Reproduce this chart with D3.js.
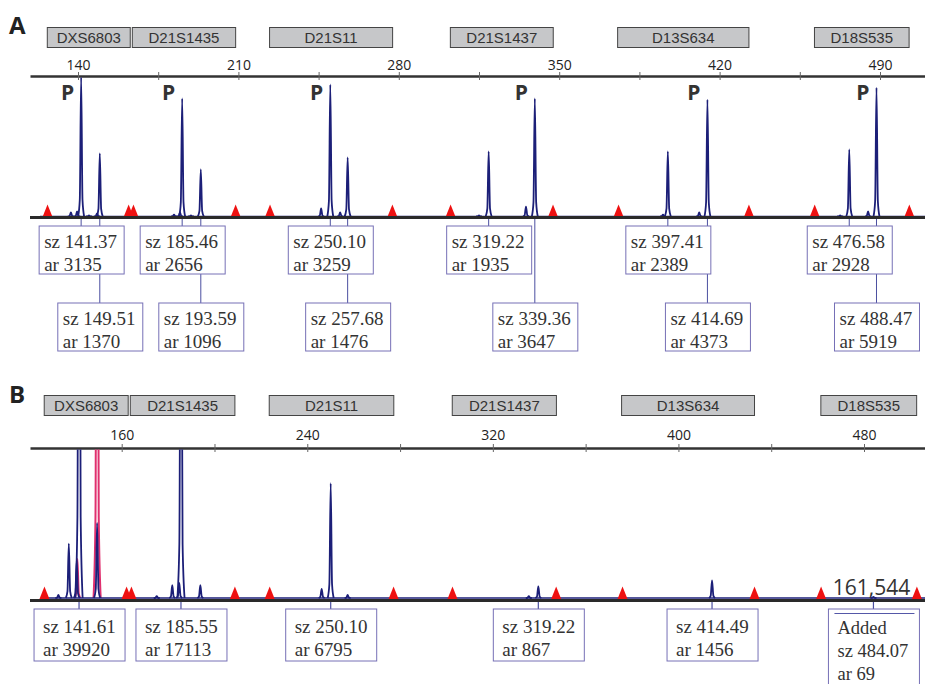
<!DOCTYPE html>
<html>
<head>
<meta charset="utf-8">
<script src="https://cdn.jsdelivr.net/npm/d3@7"></script>
<style>
  body { margin: 0; background: #fff; }
  svg { display: block; }
</style>
</head>
<body>
<div id="chart"></div>
<script>
// marker bins (bp), shared by both runs
const markerNames = ["DXS6803", "D21S1435", "D21S11", "D21S1437", "D13S634", "D18S535"];
const markerStart = [126.6, 163.7, 223.6, 302.5, 375.5, 461.4];
const markerEnd = [162.8, 208.8, 277.3, 347.4, 432.8, 502.7];

// internal size standard (red triangles)
const standardSizes = [126.7, 162.1, 164.2, 208.8, 223.8, 277.2, 302.6, 347.3, 375.9, 432.8, 461.5, 502.8];

// ---- run A ----
const ticksA = [140, 175, 210, 245, 280, 315, 350, 385, 420, 455, 490];
const sizesA = [141.37, 149.51, 185.46, 193.59, 250.10, 257.68, 319.22, 339.36, 397.41, 414.69, 476.58, 488.47];
const heightsA = [1990, 900, 1680, 670, 1880, 840, 925, 1680, 925, 1665, 955, 1835];
const areasA = [3135, 1370, 2656, 1096, 3259, 1476, 1935, 3647, 2389, 4373, 2928, 5919];
const pAllelesA = [141.37, 185.46, 250.10, 339.36, 414.69, 488.47];
const stutterSizesA = [136.9, 139.6, 144.8, 148.3, 181.9, 184.5, 189.3, 246.1, 254.4, 315.0, 335.5, 395.3, 411.1, 472.6, 484.8];
const stutterHeightsA = [57, 71, 15, 43, 28, 57, 15, 114, 57, 15, 142, 28, 57, 15, 71];

// ---- run B ----
const ticksB = [160, 200, 240, 280, 320, 360, 400, 440, 480];
const sizesB = [132.7, 137.2, 140.6, 141.61, 149.4, 175.1, 181.8, 184.8, 185.55, 193.9, 246.2, 250.10, 257.4, 335.5, 339.6, 414.49, 484.07];
const heightsB = [40, 726, 500, 9000, 1000, 25, 170, 200, 6000, 170, 120, 1530, 40, 25, 155, 235, 15];
const redSizesB = [140.9, 149.4];
const redHeightsB = [520, 9000];
const callAtB = [141.61, 185.55, 250.10, 339.6, 414.49, 484.07];
const callSzB = ["141.61", "185.55", "250.10", "319.22", "414.49", "484.07"];
const callArB = ["39920", "17113", "6795", "867", "1456", "69"];
const addedTotalB = "161,544";

const W = 925, H = 684;
const svg = d3.select("#chart").append("svg").attr("width", W).attr("height", H);

const navy = "#1c1f78";
const boxStroke = "#7670b6";
const leader = "#4b4fa0";

function peakPath(x, y, s, h, base) {
  const cx = x(s), top = Math.min(y(h), base);
  const hh = base - top;
  const w = h > y.domain()[1] ? 3.6 : 3;
  return d3.line().curve(d3.curveMonotoneX)([
    [cx - w, base], [cx - w * 0.45, base - hh * 0.12], [cx, top],
    [cx + w * 0.45, base - hh * 0.12], [cx + w, base]
  ]);
}

function drawPanel(p) {
  const g = svg.append("g");
  const x = d3.scaleLinear().domain(p.domain).range(p.range);
  const xr = x.copy().domain([x.invert(30), x.invert(925)]).range([30, 925]);
  const y = d3.scaleLinear().domain([0, 2000]).range([p.base, p.axisY]);

  // panel letter
  g.append("text").attr("x", 9).attr("y", p.letterY)
    .attr("font-family", "Open Sans").attr("font-weight", 700).attr("font-size", 24)
    .attr("fill", "#222").text(p.letter);

  // marker bins
  const mk = g.selectAll(".marker").data(markerNames).enter().append("g");
  mk.append("rect")
    .attr("x", (d, i) => xr(markerStart[i]))
    .attr("y", p.markerY)
    .attr("width", (d, i) => xr(markerEnd[i]) - xr(markerStart[i]))
    .attr("height", 20)
    .attr("fill", "#c6c7c9").attr("stroke", "#444").attr("stroke-width", 1);
  mk.append("text")
    .attr("x", (d, i) => (xr(markerStart[i]) + xr(markerEnd[i])) / 2)
    .attr("y", p.markerY + 15.5)
    .attr("text-anchor", "middle")
    .attr("font-family", "Liberation Sans").attr("font-size", 15).attr("fill", "#333")
    .text(d => d);

  // size axis
  const axis = d3.axisTop(xr).tickValues(p.ticks).tickSizeOuter(0).tickSizeInner(4)
    .tickPadding(p.tickPad).tickFormat((d, i) => i % 2 === 0 ? d : "");
  g.append("g").attr("transform", `translate(0,${p.axisY})`).call(axis)
    .call(a => {
      a.select(".domain").attr("stroke", "#333").attr("stroke-width", 2.5);
      a.selectAll(".tick line").attr("y1", 4).attr("stroke", "#666");
      a.selectAll(".tick text").attr("font-family", "Open Sans").attr("font-size", 14).attr("fill", "#222");
    });

  // traces
  const clipId = "clip" + p.letter;
  g.append("clipPath").attr("id", clipId).append("rect")
    .attr("x", 30).attr("y", p.axisY + 1.5).attr("width", 895).attr("height", p.base - p.axisY + 5);
  const tr = g.append("g").attr("clip-path", `url(#${clipId})`);

  if (p.redSizes) {
    tr.selectAll(".red").data(p.redSizes).enter().append("path")
      .attr("d", (d, i) => peakPath(xr, y, d, p.redHeights[i], p.base))
      .attr("fill", "none").attr("stroke", "#e0306e").attr("stroke-width", 2);
  }
  tr.append("line").attr("x1", p.traceStart).attr("x2", 925)
    .attr("y1", p.base).attr("y2", p.base)
    .attr("stroke", navy).attr("stroke-width", 1.5);
  const allS = p.sizes.concat(p.minorSizes || []);
  const allH = p.heights.concat(p.minorHeights || []);
  tr.selectAll(".peak").data(allS).enter().append("path")
    .attr("d", (d, i) => peakPath(xr, y, d, allH[i], p.base))
    .attr("fill", "none").attr("stroke", navy).attr("stroke-width", 1.8)
    .attr("stroke-linejoin", "round");

  // size standard triangles
  g.selectAll(".std").data(standardSizes).enter().append("path")
    .attr("d", d => `M${xr(d) - 5},${p.triBase} L${xr(d)},${p.triBase - 12.5} L${xr(d) + 5},${p.triBase} Z`)
    .attr("fill", "#ee1111");

  // baseline
  g.append("line").attr("x1", 30).attr("x2", 925)
    .attr("y1", p.blackY).attr("y2", p.blackY)
    .attr("stroke", "#2a2a2a").attr("stroke-width", 3);

  return { g, xr, y };
}

// ---------- panel A ----------
const A = drawPanel({
  letter: "A", letterY: 34, markerY: 27.5, axisY: 76, base: 216.5, blackY: 217.5,
  triBase: 217, domain: [140, 490], range: [78, 880], ticks: ticksA, tickPad: 2,
  sizes: sizesA, heights: heightsA, minorSizes: stutterSizesA, minorHeights: stutterHeightsA,
  traceStart: 40
});

A.g.selectAll(".p").data(pAllelesA).enter().append("text")
  .attr("x", d => A.xr(d) - 7).attr("y", 99.5)
  .attr("text-anchor", "end")
  .attr("font-family", "Open Sans").attr("font-weight", 700).attr("font-size", 21)
  .attr("fill", "#333").text("P");

const rowTopA = [226, 303];
const callsA = A.g.selectAll(".callA").data(sizesA).enter().append("g");
callsA.append("line")
  .attr("x1", d => A.xr(d)).attr("x2", d => A.xr(d))
  .attr("y1", 219).attr("y2", (d, i) => rowTopA[i % 2])
  .attr("stroke", leader).attr("stroke-width", 1);
callsA.each(function (d, i) {
  const top = rowTopA[i % 2];
  const left = A.xr(d) - 42;
  const s = d3.select(this);
  s.append("rect").attr("x", left).attr("y", top).attr("width", 85).attr("height", 48)
    .attr("fill", "#fff").attr("stroke", boxStroke).attr("stroke-width", 1);
  s.append("text").attr("x", left + 5).attr("y", top + 22)
    .attr("font-family", "Liberation Serif").attr("font-size", 19).attr("fill", "#333")
    .text("sz " + d.toFixed(2));
  s.append("text").attr("x", left + 5).attr("y", top + 44.5)
    .attr("font-family", "Liberation Serif").attr("font-size", 19).attr("fill", "#333")
    .text("ar " + areasA[i]);
});
// upper boxes drawn over the lower-row leaders
callsA.filter((d, i) => i % 2 === 0).raise();

// ---------- panel B ----------
const B = drawPanel({
  letter: "B", letterY: 403, markerY: 395.5, axisY: 448, base: 598, blackY: 600.5,
  triBase: 599, domain: [160, 480], range: [121.7, 864], ticks: ticksB, tickPad: 4,
  sizes: sizesB, heights: heightsB, redSizes: redSizesB, redHeights: redHeightsB,
  traceStart: 46
});

const boxTopB = 609;
const callsB = B.g.selectAll(".callB").data(callAtB).enter().append("g");
callsB.append("line")
  .attr("x1", d => B.xr(d)).attr("x2", d => B.xr(d))
  .attr("y1", 602).attr("y2", boxTopB)
  .attr("stroke", leader).attr("stroke-width", 1.2);
callsB.each(function (d, i) {
  const left = B.xr(d) - 45;
  const s = d3.select(this);
  const added = i === callAtB.length - 1;
  const lines = added
    ? ["Added", "sz " + callSzB[i], "ar " + callArB[i]]
    : ["sz " + callSzB[i], "ar " + callArB[i]];
  s.append("rect").attr("x", left).attr("y", boxTopB).attr("width", 91)
    .attr("height", added ? 90 : 52)
    .attr("fill", "#fff").attr("stroke", boxStroke).attr("stroke-width", 1);
  if (added) {
    s.append("line").attr("x1", left + 6).attr("x2", left + 86)
      .attr("y1", boxTopB + 4.5).attr("y2", boxTopB + 4.5)
      .attr("stroke", "#5558a8").attr("stroke-width", 1.2);
  }
  s.selectAll("text").data(lines).enter().append("text")
    .attr("x", left + 9)
    .attr("y", (t, j) => boxTopB + (added ? 25 + j * 23 : 24.3 + j * 22.5))
    .attr("font-family", "Liberation Serif").attr("font-size", added ? 18.5 : 19).attr("fill", "#333")
    .text(t => t);
});

B.g.append("text")
  .attr("x", B.xr(callAtB[callAtB.length - 1]) - 2).attr("y", 595)
  .attr("text-anchor", "middle")
  .attr("font-family", "Open Sans").attr("font-size", 21).attr("fill", "#333")
  .text(addedTotalB);
</script>
</body>
</html>
